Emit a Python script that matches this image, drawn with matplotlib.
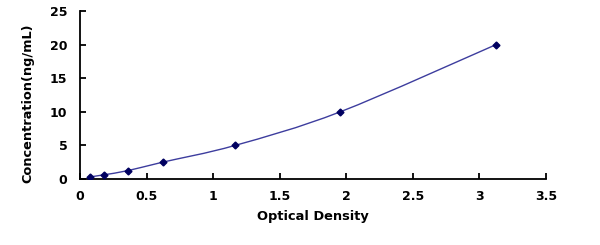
import numpy as np
import matplotlib
matplotlib.use('Agg')
import matplotlib.pyplot as plt
from matplotlib.path import Path
from matplotlib.patches import PathPatch

# Standard curve data
od = [0.075, 0.18, 0.36, 0.62, 1.165, 1.955, 3.125]
conc = [0.313, 0.625, 1.25, 2.5, 5.0, 10.0, 20.0]

x_ticks = [0, 0.5, 1, 1.5, 2, 2.5, 3, 3.5]
x_labels = ['0', '0.5', '1', '1.5', '2', '2.5', '3', '3.5']
y_ticks = [0, 5, 10, 15, 20, 25]

line_color = '#3d3d9e'
marker_color = '#000060'

plt.rcParams['font.family'] = ['DejaVu Sans']


def smooth_path(xs, ys, t=1.0 / 6):
    """
    Bezier path through points (Catmull-Rom style, like a smoothed line)
    """
    xs = np.asarray(xs, float)
    ys = np.asarray(ys, float)
    n = len(xs)
    verts = [(xs[0], ys[0])]
    codes = [Path.MOVETO]
    for i in range(n - 1):
        i0 = max(i - 1, 0)
        i3 = min(i + 2, n - 1)
        c1 = (xs[i] + (xs[i + 1] - xs[i0]) * t, ys[i] + (ys[i + 1] - ys[i0]) * t)
        c2 = (xs[i + 1] - (xs[i3] - xs[i]) * t, ys[i + 1] - (ys[i3] - ys[i]) * t)
        verts += [c1, c2, (xs[i + 1], ys[i + 1])]
        codes += [Path.CURVE4] * 3
    return Path(verts, codes)


fig = plt.figure(figsize=(6, 2.45), dpi=100)
ax = fig.add_axes([0.1333, 0.2694, 0.7767, 0.6857])

ax.add_patch(PathPatch(smooth_path(od, conc), facecolor='none',
                       edgecolor=line_color, lw=1.0))
ax.plot(od, conc, linestyle='none', marker='D', ms=3.5,
        color=marker_color, zorder=3)

ax.set_xlim(0, 3.5)
ax.set_ylim(0, 25)
ax.set_xticks(x_ticks)
ax.set_xticklabels(x_labels)
ax.set_yticks(y_ticks)

for s in ['top', 'right']:
    ax.spines[s].set_visible(False)
for s in ['left', 'bottom']:
    ax.spines[s].set_linewidth(1.3)
    ax.spines[s].set_color('black')

ax.tick_params(direction='in', length=4, width=1.3, labelsize=9, pad=8)
ax.tick_params(axis='y', pad=9)
for lab in ax.get_xticklabels() + ax.get_yticklabels():
    lab.set_fontweight('bold')

ax.set_xlabel('Optical Density', fontsize=9.4, fontweight='bold', labelpad=5)
ax.set_ylabel('Concentration(ng/mL)', fontsize=9.3, fontweight='bold')
ax.yaxis.set_label_coords(-0.097, 0.45)

fig.savefig('out.png', dpi=100)
